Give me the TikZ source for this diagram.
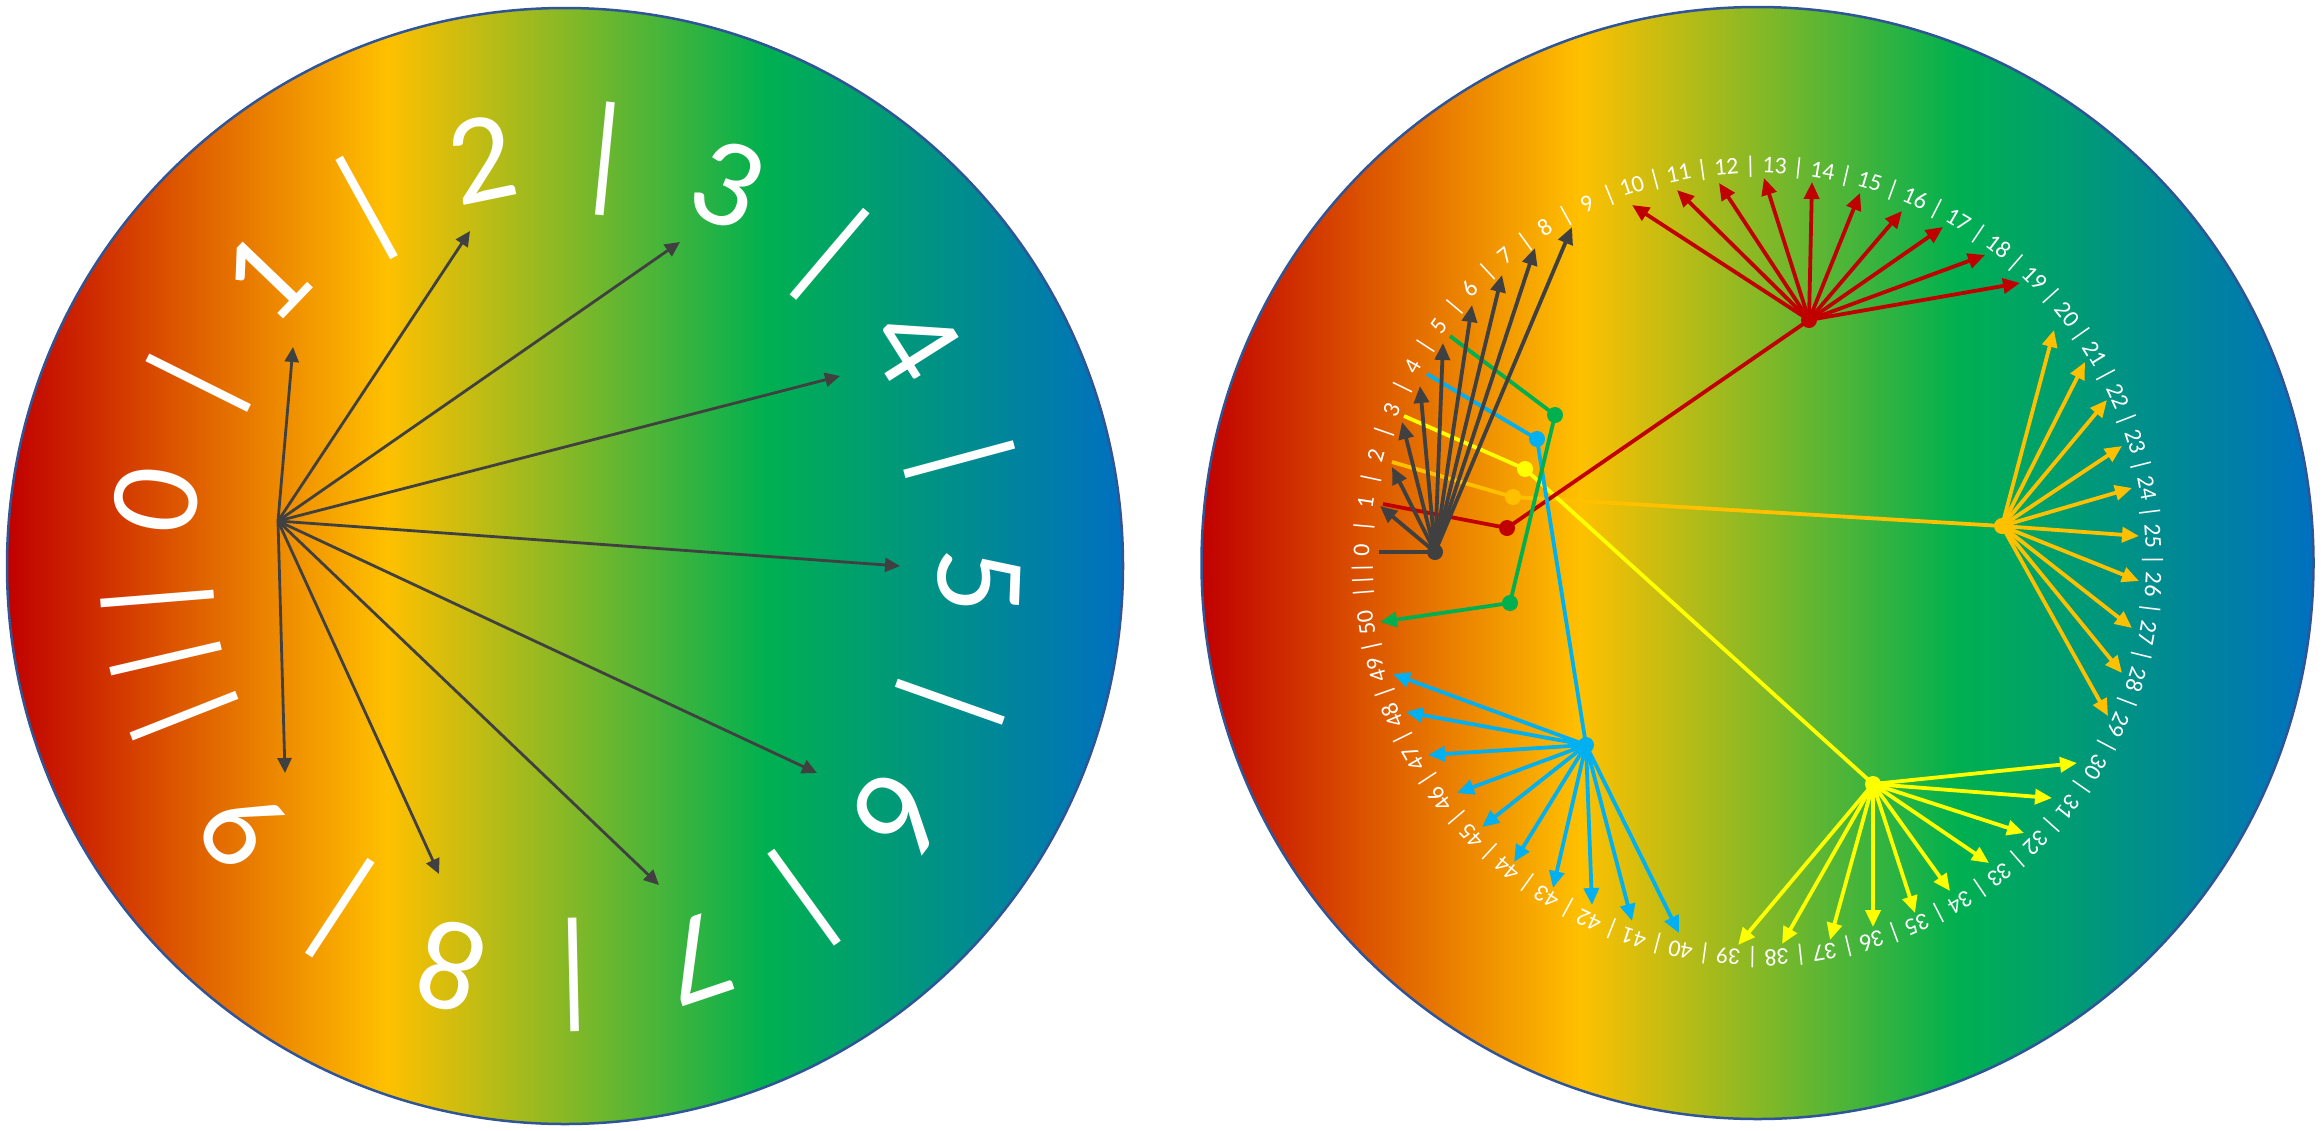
\documentclass[tikz,border=0pt]{standalone}
\usepackage{fontspec}
\setmainfont{Carlito}
\usetikzlibrary{arrows.meta}
\definecolor{cRed}{HTML}{C00000}
\definecolor{cYel}{HTML}{FFC000}
\definecolor{cGrn}{HTML}{00B050}
\definecolor{cBlu}{HTML}{0070C0}
\definecolor{cEdge}{HTML}{2F5597}
\definecolor{cDark}{HTML}{404040}
\definecolor{aRed}{HTML}{C00000}
\definecolor{aOrg}{HTML}{FFC000}
\definecolor{aYel}{HTML}{FFFF00}
\definecolor{aBlu}{HTML}{00B0F0}
\definecolor{aGrn}{HTML}{00B050}
\pgfdeclarehorizontalshading{rainbow}{100bp}{color(0bp)=(cRed); color(25bp)=(cRed); color(42bp)=(cYel); color(59bp)=(cGrn); color(75bp)=(cBlu); color(100bp)=(cBlu)}
\begin{document}
\begin{tikzpicture}[x=1pt,y=-1pt,
  disc/.style={shade, shading=rainbow, draw=cEdge, line width=2.5pt},
  bigtxt/.style={text=white, font=\fontsize{128}{128}\selectfont, anchor=base, inner sep=0pt},
  smalltxt/.style={text=white, font=\fontsize{24}{24}\selectfont, anchor=base, inner sep=0pt},
  larrow/.style={draw=cDark, line width=2.8pt, -{Triangle[length=15pt,width=14pt]}},
  rarrow/.style={line width=3.8pt, -{Triangle[length=17pt,width=15pt]}},
  link/.style={line width=3.8pt},
  hubdot/.style={circle, fill=#1, inner sep=0pt, minimum size=16pt},
]
\useasboundingbox (0,0) rectangle (2324,1130);
% ---------- left disc ----------
\path[disc] (565,566) circle[radius=558pt];
\begin{scope}[shift={(565,566)}]
\foreach \t/\a [count=\i] in {0/170.8, |/153.5, 1/136.2, |/118.9, 2/101.6, |/84.3, 3/67.0, |/49.7, 4/32.4, |/15.1, 5/-2.2, |/-19.5, 6/-36.8, |/-54.1, 7/-71.4, |/-88.7, 8/-106.0, |/-123.3, 9/-140.6, |/-158.5, |/-166.9, |/-175.4}
  \node[bigtxt, rotate={\a-90}] (lt\i) at (-\a:373.5) {\t};
\end{scope}
\coordinate (hL) at (278,521);
\foreach \x/\y [count=\i] in {293/347, 470/231, 680/242, 840/376, 900/566, 817/773, 659/885, 439/874, 285/773}{
  \coordinate (lp\i) at (\x,\y);
  \draw[larrow] (hL) -- (lp\i);
}
% ---------- right disc ----------
\path[disc] (1757.5,563) circle[radius=556pt];
\begin{scope}[shift={(1757.5,561.5)}]
\foreach \n in {0,...,50}{
  \pgfmathsetmacro\a{178.4-6.99*\n}
  \node[smalltxt, rotate={\a-90}] (rn\n) at (-\a:388.5) {\n};
}
\foreach \n in {0,...,49}{
  \pgfmathsetmacro\a{178.4-6.99*(\n+0.5)}
  \node[smalltxt, rotate={\a-90}] (rb\n) at (-\a:388.5) {|};
}
\foreach \a [count=\i] in {184.5,182.75,181.0}
  \node[smalltxt, rotate={\a-90}] (rt\i) at (-\a:388.5) {|};
\end{scope}
% hubs
\coordinate (hK) at (1435,552);
\coordinate (hr) at (1507,528);
\coordinate (ho) at (1513,497);
\coordinate (hy) at (1525,469);
\coordinate (hb) at (1537,439);
\coordinate (hg) at (1555,415);
\coordinate (hR) at (1809,320);
\coordinate (hO) at (2002,526);
\coordinate (hY) at (1873,784);
\coordinate (hB) at (1586,745);
\coordinate (hG) at (1510,603);
% link start points (at labels 1..5)
\coordinate (sr) at (1383,504);
\coordinate (so) at (1392,462);
\coordinate (sy) at (1404,416);
\coordinate (sb) at (1427,374);
\coordinate (sg) at (1450,336);
\draw[link, aOrg] (so) -- (ho) -- (hO);
\draw[link, aYel] (sy) -- (hy) -- (hY);
\draw[link, aRed] (sr) -- (hr) -- (hR);
\draw[link, aBlu] (sb) -- (hb) -- (hB);
\draw[link, aGrn] (sg) -- (hg) -- (hG);
\coordinate (t50) at (1380,622);
\draw[rarrow, aGrn] (hG) -- (t50);
% fans
\foreach \x/\y [count=\i] in {1632/205, 1677/190, 1719/183, 1764/178, 1812/182, 1860/193, 1902/211, 1943/227, 1985/255, 2020/283}{
  \coordinate (tR\i) at (\x,\y);
  \draw[rarrow, aRed] (hR) -- (tR\i);
}
\foreach \x/\y [count=\i] in {2054/330, 2085/362, 2107/400, 2122/446, 2132/488, 2139/536, 2139/581, 2132/628, 2122/673, 2108/716}{
  \coordinate (tO\i) at (\x,\y);
  \draw[rarrow, aOrg] (hO) -- (tO\i);
}
\foreach \x/\y [count=\i] in {2077/763, 2052/798, 2024/833, 1989/863, 1950/891, 1915/913, 1873/927, 1830/940, 1782/944, 1738/945}{
  \coordinate (tY\i) at (\x,\y);
  \draw[rarrow, aYel] (hY) -- (tY\i);
}
\foreach \x/\y [count=\i] in {1679/933, 1632/921, 1592/905, 1553/888, 1514/862, 1482/827, 1457/793, 1428/755, 1406/712, 1393/674}{
  \coordinate (tB\i) at (\x,\y);
  \draw[rarrow, aBlu] (hB) -- (tB\i);
}
\coordinate (tK0) at (1379,552);
\draw[link, cDark] (hK) -- (tK0);
\foreach \x/\y [count=\i] in {1380/506, 1392/467, 1402/422, 1420/386, 1443/343, 1472/305, 1502/275, 1535/248, 1572/227}{
  \coordinate (tK\i) at (\x,\y);
  \draw[rarrow, cDark] (hK) -- (tK\i);
}
% dots
\node[hubdot=cDark] (dK) at (hK) {};
\node[hubdot=aRed] (dr) at (hr) {};
\node[hubdot=aOrg] (do) at (ho) {};
\node[hubdot=aYel] (dy) at (hy) {};
\node[hubdot=aBlu] (db) at (hb) {};
\node[hubdot=aGrn] (dg) at (hg) {};
\node[hubdot=aRed] (dR) at (hR) {};
\node[hubdot=aOrg] (dO) at (hO) {};
\node[hubdot=aYel] (dY) at (hY) {};
\node[hubdot=aBlu] (dB) at (hB) {};
\node[hubdot=aGrn] (dG) at (hG) {};
\end{tikzpicture}
\end{document}
